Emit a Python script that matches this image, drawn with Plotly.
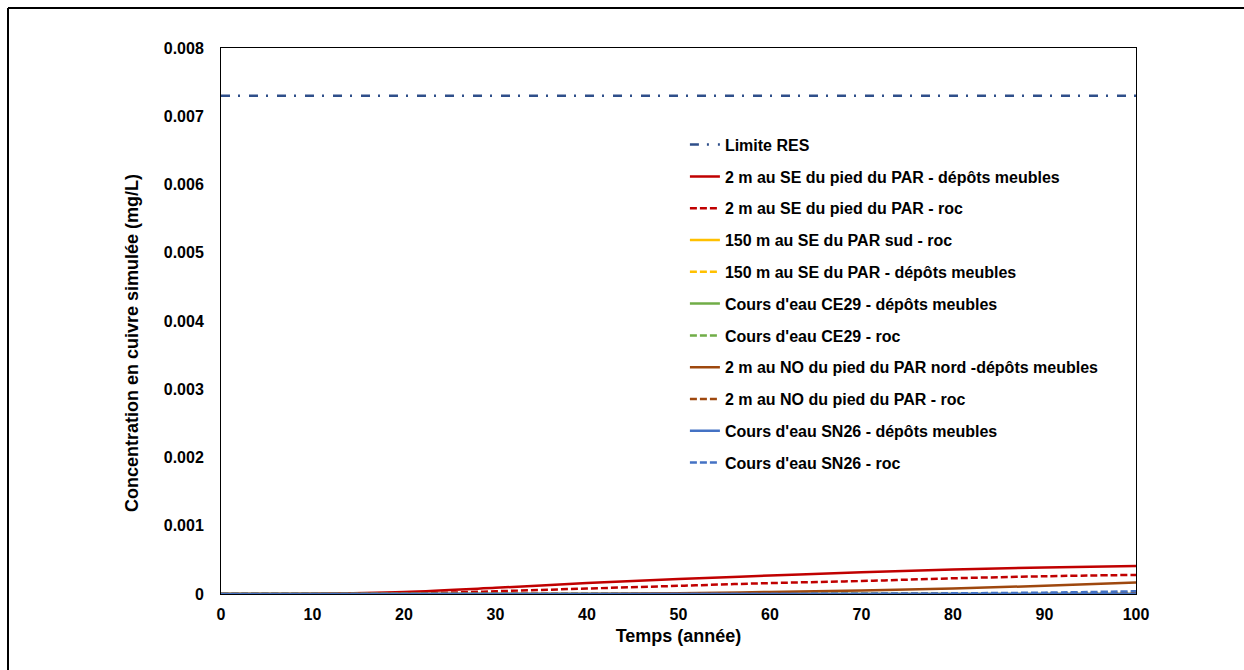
import plotly.graph_objects as go

years = [0, 10, 20, 30, 40, 50, 60, 70, 80, 90, 100]
limite_res = 0.0073
se2_depots = [0, 0.000005, 0.00003, 0.00009, 0.00016, 0.00022, 0.00027, 0.00032, 0.00036, 0.00039, 0.00041]
se2_roc = [0, 0, 0.000005, 0.00004, 0.00008, 0.00012, 0.00016, 0.00019, 0.00023, 0.00026, 0.00028]
se150_roc = [0, 0, 0, 0, 0, 0, 0, 0, 0, 0, 0]
se150_depots = [0, 0, 0, 0, 0, 0, 0, 0, 0, 0, 0]
ce29_depots = [0, 0, 0, 0, 0, 0, 0, 0, 0, 0, 0]
ce29_roc = [0, 0, 0, 0, 0, 0, 0, 0, 0, 0, 0]
no2_depots = [0, 0, 0, 0, 0, 0.00001, 0.00003, 0.00005, 0.00008, 0.00012, 0.00017]
no2_roc = [0, 0, 0, 0, 0, 0, 0, 0, 0.000005, 0.00001, 0.00002]
sn26_depots = [0, 0, 0, 0, 0, 0, 0, 0, 0, 0, 0]
sn26_roc = [0, 0, 0, 0, 0, 0, 0, 0.000005, 0.00001, 0.00002, 0.00004]

series = [
    ("2 m au SE du pied du PAR - dépôts meubles", se2_depots, "#C00000", "solid"),
    ("2 m au SE du pied du PAR - roc", se2_roc, "#C00000", "7px,3px"),
    ("150 m au SE du PAR sud - roc", se150_roc, "#FFC000", "solid"),
    ("150 m au SE du PAR - dépôts meubles", se150_depots, "#FFC000", "7px,3px"),
    ("Cours d'eau CE29 - dépôts meubles", ce29_depots, "#70AD47", "solid"),
    ("Cours d'eau CE29 - roc", ce29_roc, "#70AD47", "7px,3px"),
    ("2 m au NO du pied du PAR nord -dépôts meubles", no2_depots, "#9E480E", "solid"),
    ("2 m au NO du pied du PAR - roc", no2_roc, "#9E480E", "7px,3px"),
    ("Cours d'eau SN26 - dépôts meubles", sn26_depots, "#4472C4", "solid"),
    ("Cours d'eau SN26 - roc", sn26_roc, "#4472C4", "7px,3px"),
]

FONT = "Liberation Sans, Arial, sans-serif"
y_title = "Concentration en cuivre simulée (mg/L)"

fig = go.Figure()
fig.add_trace(go.Scatter(
    x=[years[0], years[-1]], y=[limite_res, limite_res], mode="lines",
    name="Limite RES", legendgroup="g0",
    line=dict(color="#2F4F8A", width=2.5, dash="9px,8px,2px,9px"),
))
for i, (name, vals, color, dash) in enumerate(series):
    fig.add_trace(go.Scatter(
        x=years, y=vals, mode="lines", name=name, legendgroup=f"g{i+1}",
        line=dict(color=color, width=2.5, dash=dash, shape="spline"),
    ))

top_y = 1 + (48 - 8) / 546
left_x = (8 - 221) / 915
right_x = (1244 - 221) / 915

fig.update_layout(
    width=1244, height=670,
    margin=dict(l=221, r=108, t=48, b=76),
    paper_bgcolor="white", plot_bgcolor="white",
    font=dict(family=FONT, size=16, color="black", weight="bold"),
    showlegend=True,
    legend=dict(
        x=0.507, y=0.854, xanchor="left", yanchor="top",
        bgcolor="rgba(0,0,0,0)", tracegroupgap=8,
        font=dict(family=FONT, size=16, color="black", weight="bold"),
    ),
    xaxis=dict(
        range=[0, 100], dtick=10, tick0=0, showgrid=False, zeroline=False,
        showline=True, linecolor="black", linewidth=1, mirror=True,
        ticks="", tickfont=dict(family=FONT, size=16, weight="bold"),
        ticklabelstandoff=6,
        title=dict(text="Temps (année)", font=dict(family=FONT, size=18, weight="bold"), standoff=7),
    ),
    yaxis=dict(
        range=[0, 0.008], dtick=0.001, tick0=0, showgrid=False, zeroline=False,
        showline=True, linecolor="black", linewidth=1, mirror=True,
        ticks="", tickformat=".3~f", tickfont=dict(family=FONT, size=16, weight="bold"),
        ticklabelstandoff=13,
    ),
    annotations=[dict(
        text=y_title, xref="paper", yref="paper",
        x=(132 - 221) / 915, y=(594 - 343) / 546, xanchor="center", yanchor="middle",
        textangle=-90, showarrow=False,
        font=dict(family=FONT, size=18, color="black", weight="bold"),
    )],
    shapes=[
        dict(type="line", xref="paper", yref="paper",
             x0=left_x, x1=right_x, y0=top_y, y1=top_y,
             line=dict(color="black", width=2), layer="below"),
        dict(type="line", xref="paper", yref="paper",
             x0=left_x, x1=left_x, y0=-0.2, y1=top_y,
             line=dict(color="black", width=2), layer="below"),
    ],
)

fig.write_html("out.html")
